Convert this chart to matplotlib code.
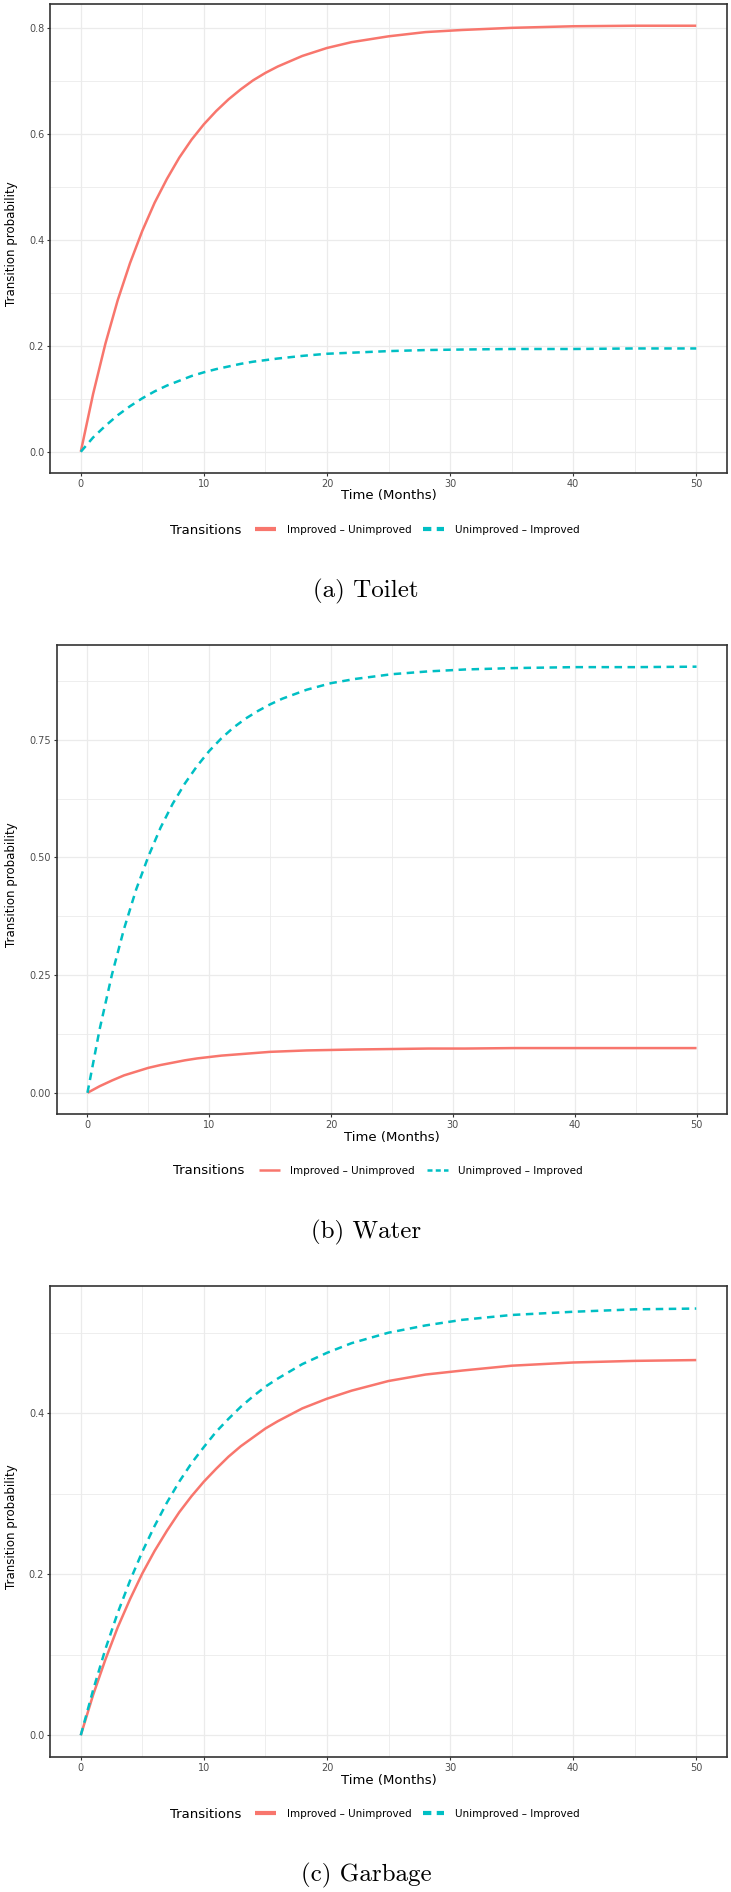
import matplotlib.pyplot as plt
from matplotlib.lines import Line2D
from matplotlib.ticker import MultipleLocator, FormatStrFormatter

W, H = 731, 1892
RED = '#F8766D'
TEAL = '#00BFC4'

# time grid (months)
months = [0, 1, 2, 3, 4, 5, 6, 7, 8, 9, 10, 11, 12, 13, 14, 15, 16, 18, 20, 22, 25, 28, 31, 35, 40, 45, 50]

# (a) Toilet
toilet_iu = [0, 0.109, 0.204, 0.286, 0.356, 0.417, 0.470, 0.515, 0.555, 0.589, 0.618, 0.643, 0.665,
             0.684, 0.701, 0.715, 0.727, 0.747, 0.762, 0.773, 0.784, 0.792, 0.796, 0.800, 0.803, 0.804, 0.804]
toilet_ui = [0, 0.027, 0.049, 0.069, 0.086, 0.101, 0.114, 0.125, 0.134, 0.143, 0.150, 0.156, 0.161,
             0.166, 0.170, 0.173, 0.176, 0.181, 0.185, 0.187, 0.190, 0.192, 0.193, 0.194, 0.194, 0.195, 0.195]
# (b) Water
water_iu = [0, 0.014, 0.026, 0.037, 0.045, 0.053, 0.059, 0.064, 0.069, 0.073, 0.076, 0.079, 0.081,
            0.083, 0.085, 0.087, 0.088, 0.090, 0.091, 0.092, 0.093, 0.094, 0.094, 0.095, 0.095, 0.095, 0.095]
water_ui = [0, 0.135, 0.250, 0.348, 0.432, 0.502, 0.563, 0.614, 0.657, 0.694, 0.726, 0.753, 0.776,
            0.795, 0.811, 0.825, 0.837, 0.856, 0.870, 0.879, 0.889, 0.895, 0.899, 0.902, 0.904, 0.904, 0.905]
# (c) Garbage
garbage_iu = [0, 0.050, 0.094, 0.134, 0.169, 0.201, 0.229, 0.254, 0.277, 0.297, 0.315, 0.331, 0.346,
              0.359, 0.370, 0.381, 0.390, 0.406, 0.418, 0.428, 0.440, 0.448, 0.453, 0.459, 0.463, 0.465, 0.466]
garbage_ui = [0, 0.056, 0.107, 0.152, 0.192, 0.228, 0.260, 0.289, 0.315, 0.338, 0.358, 0.377, 0.393,
              0.408, 0.421, 0.433, 0.443, 0.461, 0.475, 0.487, 0.500, 0.509, 0.516, 0.522, 0.526, 0.529, 0.530]

labels = ['Improved \u2013 Unimproved', 'Unimproved \u2013 Improved']

panels = [
    dict(iu=toilet_iu, ui=toilet_ui, box=(50, 4, 727, 473), ylim=(-0.04, 0.845),
         major=0.2, fmt='%.1f', cap='(a) Toilet', leg_lw=3.0),
    dict(iu=water_iu, ui=water_ui, box=(57, 645, 727, 1114), ylim=(-0.045, 0.951),
         major=0.25, fmt='%.2f', cap='(b) Water', leg_lw=1.8),
    dict(iu=garbage_iu, ui=garbage_ui, box=(50, 1286, 727, 1757), ylim=(-0.027, 0.558),
         major=0.2, fmt='%.1f', cap='(c) Garbage', leg_lw=3.0),
]

fig = plt.figure(figsize=(W / 100, H / 100), dpi=100)

for p in panels:
    l, t, r, b = p['box']
    ax = fig.add_axes([l / W, 1 - b / H, (r - l) / W, (b - t) / H])
    ax.plot(months, p['iu'], color=RED, lw=1.8, solid_capstyle='butt')
    ax.plot(months, p['ui'], color=TEAL, lw=1.8, dashes=(3.0, 2.2))
    ax.set_xlim(-2.5, 52.5)
    ax.set_ylim(*p['ylim'])

    ax.xaxis.set_major_locator(MultipleLocator(10))
    ax.xaxis.set_minor_locator(MultipleLocator(5))
    ax.yaxis.set_major_locator(MultipleLocator(p['major']))
    ax.yaxis.set_minor_locator(MultipleLocator(p['major'] / 2))
    ax.yaxis.set_major_formatter(FormatStrFormatter(p['fmt']))
    ax.grid(which='major', color='#EBEBEB', lw=0.9)
    ax.grid(which='minor', color='#EBEBEB', lw=0.6)
    ax.set_axisbelow(True)
    ax.tick_params(which='major', length=2.2, width=0.8, color='#333333',
                   labelcolor='#4D4D4D', labelsize=7, pad=2)
    ax.tick_params(which='minor', length=0)
    for s in ax.spines.values():
        s.set_color('#333333')
        s.set_linewidth(1.2)

    # axis titles, placed in pixel offsets from the panel box
    ax.set_xlabel('Time (Months)', fontsize=9.5, color='black')
    ax.xaxis.set_label_coords(0.5, -23 / (b - t))
    ax.xaxis.label.set_va('center')
    ax.set_ylabel('Transition probability', fontsize=8.5, color='black')
    ax.yaxis.set_label_coords(-(l - 12) / (r - l), 0.49)
    ax.yaxis.label.set_va('center')

    # legend below the panel, title on the left
    cx = (l + r) / 2
    ly = b + 57
    fig.text((cx - 219) / W, 1 - ly / H, 'Transitions', fontsize=9.5,
             ha='left', va='center')
    handles = [Line2D([], [], color=RED, lw=p['leg_lw'], solid_capstyle='butt'),
               Line2D([], [], color=TEAL, lw=p['leg_lw'], dashes=(2.0, 1.3))]
    fig.legend(handles, labels, loc='center left',
               bbox_to_anchor=((cx - 133) / W, 1 - ly / H), ncol=2, frameon=False,
               fontsize=7.5, handlelength=2.0, handletextpad=1.0, columnspacing=1.15,
               borderpad=0, borderaxespad=0)

    fig.text(366 / W, 1 - (b + 118) / H, p['cap'], family='cmr10', fontsize=18,
             ha='center', va='center')

fig.savefig('out.png', dpi=100)
